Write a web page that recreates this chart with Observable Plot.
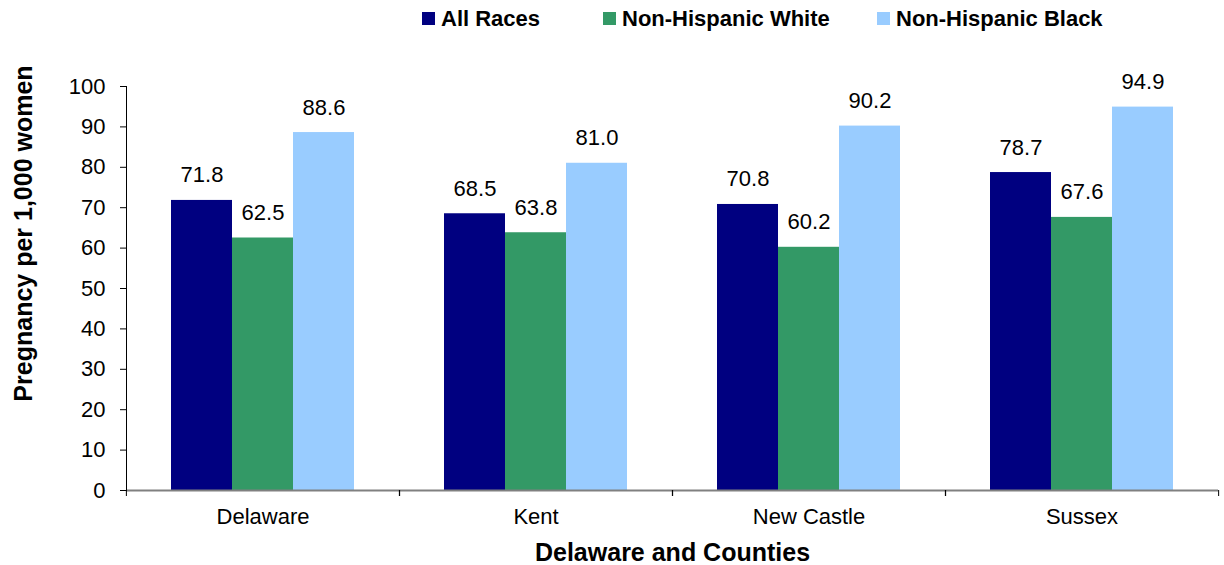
<!DOCTYPE html>
<html>
<head>
<meta charset="utf-8">
<script src="https://cdn.jsdelivr.net/npm/d3@7"></script>
<script src="https://cdn.jsdelivr.net/npm/@observablehq/plot@0.6"></script>
<style>
  html, body { margin: 0; padding: 0; background: #fff; }
  body { width: 1224px; height: 565px; overflow: hidden; font-family: "Liberation Sans", Arial, sans-serif; }
  #legend { position: relative; height: 38px; width: 1224px; }
  .item { position: absolute; top: 6px; display: flex; align-items: center; font-weight: bold; font-size: 22px; line-height: 25px; color: #000; white-space: nowrap; }
  .sw { width: 13px; height: 13px; margin-right: 6px; }
</style>
</head>
<body>
<div id="legend"></div>
<div id="chart"></div>
<script>
const counties = ["Delaware", "Kent", "New Castle", "Sussex"];
const seriesNames = ["All Races", "Non-Hispanic White", "Non-Hispanic Black"];
const allRaces = [71.8, 68.5, 70.8, 78.7];
const nhWhite = [62.5, 63.8, 60.2, 67.6];
const nhBlack = [88.6, 81.0, 90.2, 94.9];
const colors = ["#000080", "#339966", "#99CCFF"];
const yTicks = [0, 10, 20, 30, 40, 50, 60, 70, 80, 90, 100];
const yTitle = "Pregnancy per 1,000 women";
const xTitle = "Delaware and Counties";

const seriesValues = [allRaces, nhWhite, nhBlack];
const data = counties.flatMap((c, i) => seriesNames.map((s, j) => ({county: c, series: s, value: seriesValues[j][i]})));

// legend
const legendLeft = [422, 603, 877];
const legend = document.getElementById("legend");
seriesNames.forEach((s, j) => {
  const it = document.createElement("div");
  it.className = "item";
  it.style.left = legendLeft[j] + "px";
  const sw = document.createElement("span");
  sw.className = "sw";
  sw.style.background = colors[j];
  it.appendChild(sw);
  it.appendChild(document.createTextNode(s));
  legend.appendChild(it);
});

const W = 1224, H = 527, mL = 125, mR = 6;
const half = (W - mL - mR) / counties.length / 2;

const chart = Plot.plot({
  width: W,
  height: H,
  marginTop: 48,
  marginBottom: 75,
  marginLeft: mL,
  marginRight: mR,
  style: {fontFamily: "'Liberation Sans', Arial, sans-serif", fontSize: "22px", color: "#000", background: "#fff"},
  fx: {domain: counties, padding: 0, label: null},
  x: {domain: seriesNames, paddingInner: 0, paddingOuter: 0.71, axis: null},
  y: {domain: [0, 100], axis: null},
  color: {domain: seriesNames, range: colors},
  marks: [
    Plot.barY(data, {fx: "county", x: "series", y: "value", fill: "series"}),
    Plot.ruleY([0], {stroke: "#808080", strokeWidth: 2}),
    Plot.frame({anchor: "left", facetAnchor: "left", stroke: "#000"}),
    Plot.text(data, {fx: "county", x: "series", y: "value", text: d => d.value.toFixed(1), lineAnchor: "bottom", dy: -18, fontSize: 22, fill: "#000"}),
    Plot.axisY({ticks: yTicks, tickSize: 6, tickPadding: 15, label: null, fontSize: 22, stroke: "#000"}),
    Plot.text([yTitle], {frameAnchor: "left", facetAnchor: "left", textAnchor: "middle", rotate: -90, dx: -103, dy: -55, fontSize: 25, fontWeight: "bold", fill: "#000"}),
    Plot.axisFx({anchor: "bottom", tickSize: 0, tickPadding: 18, label: null, fontSize: 22}),
    Plot.axisFx({anchor: "bottom", text: null, tickSize: 6, dx: -half, label: null, stroke: "#000"}),
    Plot.axisFx({anchor: "bottom", text: null, tickSize: 6, dx: half, label: null, stroke: "#000"}),
    Plot.axisFx({anchor: "bottom", ticks: [], label: xTitle, labelAnchor: "center", labelOffset: 70, fontSize: 25, fontWeight: "bold"})
  ]
});
document.getElementById("chart").appendChild(chart);
</script>
</body>
</html>
